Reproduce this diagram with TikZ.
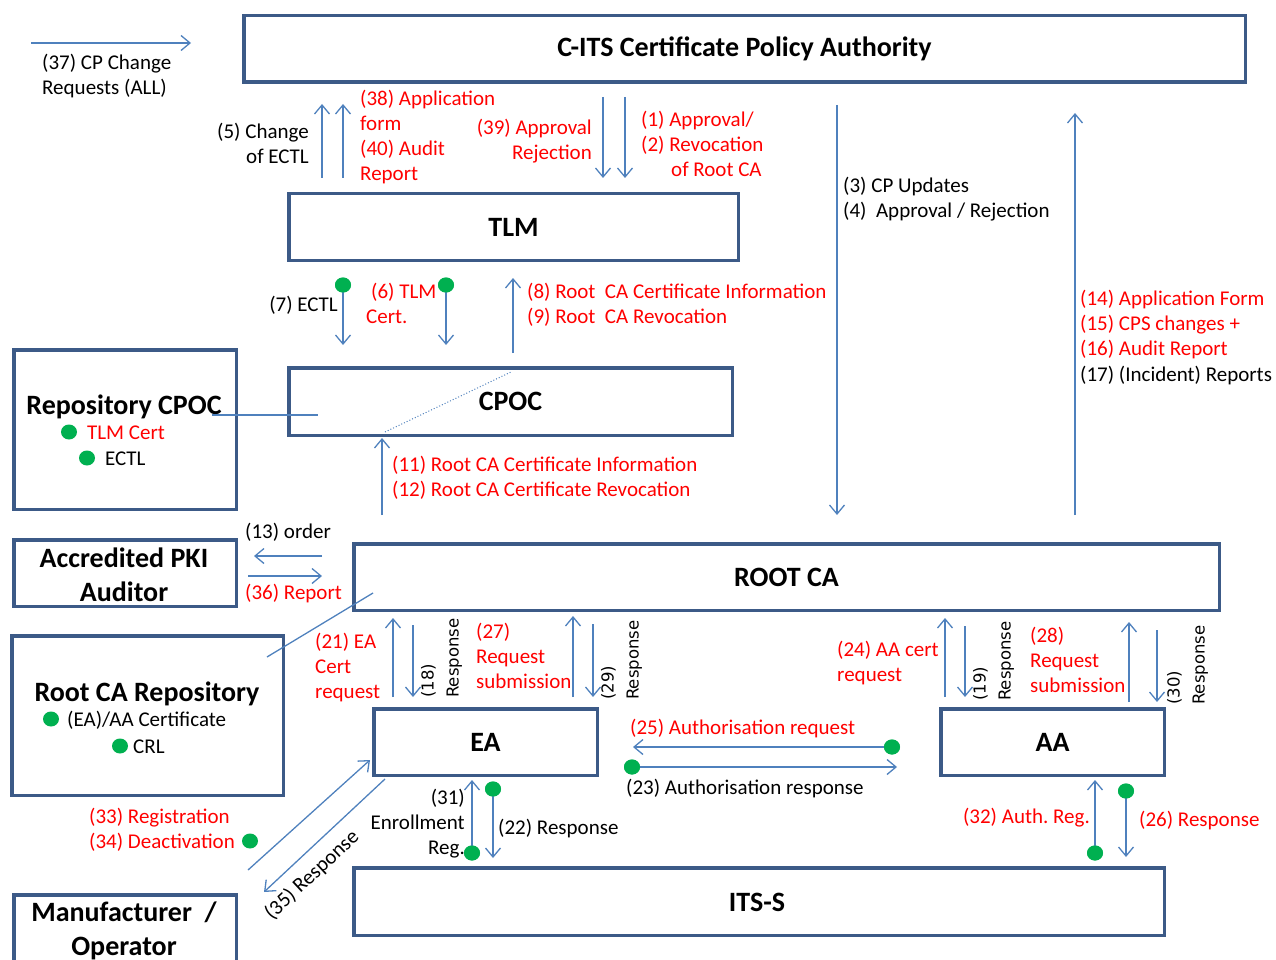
\documentclass[tikz,border=0pt]{standalone}
\usepackage{fontspec}
\setmainfont{Carlito}
\newfontfamily\respfont{DejaVu Sans}
\usetikzlibrary{arrows.meta,shapes.geometric}
\definecolor{boxblue}{RGB}{60,90,135}
\definecolor{arrblue}{RGB}{79,129,189}
\definecolor{dotgreen}{RGB}{0,176,80}
\definecolor{lblred}{RGB}{255,0,0}
\begin{document}
\begin{tikzpicture}[x=1pt,y=-1pt,
  box/.style={draw=boxblue,line width=3.5pt,fill=white,inner sep=0pt,font=\fontsize{28}{34}\selectfont\bfseries},
  ttl/.style={inner sep=0pt,align=center,font=\fontsize{28}{34}\selectfont\bfseries},
  arr/.style={draw=arrblue,line width=1.3pt,-{Straight Barb[length=9pt,width=15pt,line width=1.3pt]}},
  ln/.style={draw=arrblue,line width=1.3pt},
  gdot/.style={ellipse,fill=dotgreen,minimum width=16pt,minimum height=15pt,inner sep=0pt},
  lbl/.style={font=\fontsize{21}{25}\selectfont,inner sep=0pt,text=black},
  rlbl/.style={lbl,text=lblred},
  resp/.style={font=\respfont\fontsize{16.5}{25}\selectfont,rotate=90,anchor=north west,align=left,inner sep=0pt}
]
\useasboundingbox (0,0) rectangle (1276,960);
\clip (0,0) rectangle (1276,960);

% ---------------- boxes ----------------
\node[box,minimum width=1001.5pt,minimum height=66.5pt] (cpa) at (744.5,49) {C-ITS Certificate Policy Authority};
\node[box,minimum width=449.5pt,minimum height=66.5pt] (tlm) at (513.5,227) {TLM};
\node[box,minimum width=443.5pt,minimum height=67.5pt] (cpoc) at (510.5,401.5) {CPOC};
\node[box,minimum width=222.5pt,minimum height=159.5pt] (repcpoc) at (125,429.5) {};
\node[box,minimum width=222.5pt,minimum height=66.5pt] (auditor) at (125,573) {};
\node[box,minimum width=865.5pt,minimum height=66.5pt] (rootca) at (786.5,577) {ROOT CA};
\node[box,minimum width=271.5pt,minimum height=159.5pt] (reproot) at (147.5,715.5) {};
\node[box,minimum width=223.5pt,minimum height=66.5pt] (ea) at (485.5,742) {EA};
\node[box,minimum width=223.5pt,minimum height=66.5pt] (aa) at (1052.5,742) {AA};
\node[box,minimum width=810.5pt,minimum height=67.5pt] (its) at (759,901.5) {};
\node[box,minimum width=222.5pt,minimum height=80pt] (manu) at (125,935) {};

\node[ttl] (itsT) at (757,902) {ITS-S};
\node[ttl,anchor=base] (repcpocT) at (124,414) {Repository CPOC};
\node[ttl,anchor=base] (auditorT) at (124,601) {Accredited PKI\\Auditor};
\node[ttl,anchor=base] (reprootT) at (147,701) {Root CA Repository};
\node[ttl,anchor=base] (manuT) at (124,955) {Manufacturer\ \ /\\Operator};

% ---------------- green dots ----------------
\node[gdot] (dTLMc) at (69,432) {};
\node[gdot] (dECTL) at (87,458) {};
\node[rlbl,anchor=base west] (tTLMc) at (87,439) {TLM Cert};
\node[lbl,anchor=base west] (tECTL) at (105,465) {ECTL};
\node[gdot] (dEAAA) at (51,719) {};
\node[gdot] (dCRL) at (120,746) {};
\node[lbl,anchor=base west] (tEAAA) at (67,726) {(EA)/AA Certificate};
\node[lbl,anchor=base west] (tCRL) at (133,753) {CRL};

% ---------------- coordinates ----------------
\coordinate (a37s) at (31,43);   \coordinate (a37e) at (191,43);
\coordinate (a5s) at (322,178);  \coordinate (a5e) at (322,104);
\coordinate (a38s) at (343,178); \coordinate (a38e) at (343,104);
\coordinate (a39s) at (603,97);  \coordinate (a39e) at (603,178);
\coordinate (a1s) at (625,97);   \coordinate (a1e) at (625,178);
\coordinate (a3s) at (837,105);  \coordinate (a3e) at (837,515);
\coordinate (a14s) at (1075,515);\coordinate (a14e) at (1075,113);
\coordinate (a7e) at (343,345);  \coordinate (a6e) at (446,345);
\coordinate (a8s) at (513,353);  \coordinate (a8e) at (513,278);
\coordinate (a11s) at (382,515); \coordinate (a11e) at (382,438);
\coordinate (a13s) at (322,556); \coordinate (a13e) at (254,556);
\coordinate (a36s) at (248,576); \coordinate (a36e) at (322,576);
\coordinate (a21s) at (393,697); \coordinate (a21e) at (393,618);
\coordinate (a18s) at (413,625); \coordinate (a18e) at (413,697);
\coordinate (a27s) at (573,697); \coordinate (a27e) at (573,616);
\coordinate (a29s) at (593,624); \coordinate (a29e) at (593,697);
\coordinate (a24s) at (945,697); \coordinate (a24e) at (945,618);
\coordinate (a19s) at (965,626); \coordinate (a19e) at (965,697);
\coordinate (a28s) at (1129,702);\coordinate (a28e) at (1129,622);
\coordinate (a30s) at (1157,630);\coordinate (a30e) at (1157,702);
\coordinate (a25e) at (633,747); \coordinate (a23e) at (897,767);
\coordinate (a31e) at (472,780); \coordinate (a22e) at (493,858);
\coordinate (a32e) at (1095,780);\coordinate (a26e) at (1126,857);
\coordinate (a33s) at (248,870); \coordinate (a33e) at (370,760);
\coordinate (a35s) at (385,779); \coordinate (a35e) at (264,892);
\coordinate (lnA) at (212,415);  \coordinate (lnB) at (318,415);
\coordinate (dtA) at (385,432);  \coordinate (dtB) at (511,372);
\coordinate (lnC) at (373,593);  \coordinate (lnD) at (267,657);

% ---------------- dots on arrows ----------------
\node[gdot] (d7) at (343,285) {};
\node[gdot] (d6) at (446,285) {};
\node[gdot] (d25) at (892,747) {};
\node[gdot] (d23) at (632,767) {};
\node[gdot] (d34) at (250,841) {};
\node[gdot] (d31) at (472,853) {};
\node[gdot] (d22) at (493,789) {};
\node[gdot] (d32) at (1095,853) {};
\node[gdot] (d26) at (1126,791) {};

% ---------------- connectors ----------------
\draw[arr] (a37s) -- (a37e);
\draw[arr] (a5s) -- (a5e);
\draw[arr] (a38s) -- (a38e);
\draw[arr] (a39s) -- (a39e);
\draw[arr] (a1s) -- (a1e);
\draw[arr] (a3s) -- (a3e);
\draw[arr] (a14s) -- (a14e);
\draw[arr] (d7.center) -- (a7e);
\draw[arr] (d6.center) -- (a6e);
\draw[arr] (a8s) -- (a8e);
\draw[arr] (a11s) -- (a11e);
\draw[arr] (a13s) -- (a13e);
\draw[arr] (a36s) -- (a36e);
\draw[arr] (a21s) -- (a21e);
\draw[arr] (a18s) -- (a18e);
\draw[arr] (a27s) -- (a27e);
\draw[arr] (a29s) -- (a29e);
\draw[arr] (a24s) -- (a24e);
\draw[arr] (a19s) -- (a19e);
\draw[arr] (a28s) -- (a28e);
\draw[arr] (a30s) -- (a30e);
\draw[arr] (d25.center) -- (a25e);
\draw[arr] (d23.center) -- (a23e);
\draw[arr] (d31.center) -- (a31e);
\draw[arr] (d22.center) -- (a22e);
\draw[arr] (d32.center) -- (a32e);
\draw[arr] (d26.center) -- (a26e);
\draw[arr] (a33s) -- (a33e);
\draw[arr] (a35s) -- (a35e);
\draw[ln] (lnA) -- (lnB);
\draw[ln] (lnC) -- (lnD);
\draw[draw=arrblue,line width=1pt,dotted] (dtA) -- (dtB);
% redraw dots on top
\foreach \d in {d7,d6,d25,d23,d31,d22,d32,d26}{\fill[dotgreen] (\d) ellipse (8pt and 7.5pt);}

% ---------------- labels ----------------
\node[lbl,anchor=base west,align=left] (t37) at (42,95) {(37) CP Change\\Requests (ALL)};
\node[lbl,anchor=base east,align=right] (t5) at (309,164) {(5) Change\\of ECTL};
\node[rlbl,anchor=base west,align=left] (t38) at (360,181) {(38) Application\\form\\(40) Audit\\Report};
\node[rlbl,anchor=base east,align=right] (t39) at (592,160) {(39) Approval\\Rejection};
\node[rlbl,anchor=base west,align=left] (t1) at (641,177) {(1) Approval/\\(2) Revocation\\\hspace*{30pt}of Root CA};
\node[lbl,anchor=base west,align=left] (t3) at (843,218) {(3) CP Updates\\(4)\ \ Approval\ / Rejection};
\node[rlbl,anchor=base west,align=left] (t14) at (1080,355) {(14) Application Form\\(15) CPS changes +\\(16) Audit Report};
\node[lbl,anchor=base west] (t17) at (1080,381) {(17) (Incident) Reports};
\node[lbl,anchor=base east] (t7) at (338,311) {(7) ECTL};
\node[rlbl,anchor=base west,align=left] (t6) at (366,323) {\hspace*{5pt}(6) TLM\\Cert.};
\node[rlbl,anchor=base west,align=left] (t8) at (527,323) {(8) Root\ \ CA Certificate Information\\(9) Root\ \ CA Revocation};
\node[rlbl,anchor=base west,align=left] (t11) at (392,496) {(11) Root CA Certificate Information\\(12) Root CA Certificate Revocation};
\node[lbl,anchor=base west] (t13) at (245,538) {(13) order};
\node[rlbl,anchor=base west] (t36) at (245,599) {(36) Report};
\node[rlbl,anchor=base west,align=left] (t21) at (315,698) {(21) EA\\Cert\\request};
\node[rlbl,anchor=base west,align=left] (t27) at (476,688) {(27)\\Request\\submission};
\node[rlbl,anchor=base west,align=left] (t24) at (837,681) {(24) AA cert\\request};
\node[rlbl,anchor=base west,align=left] (t28) at (1030,692) {(28)\\Request\\submission};
\node[rlbl,anchor=base west] (t25) at (630,734) {(25) Authorisation request};
\node[lbl,anchor=base west] (t23) at (626,794) {(23) Authorisation response};
\node[lbl,anchor=base east,align=right] (t31) at (465,854) {(31)\\Enrollment\\Reg.};
\node[lbl,anchor=base west] (t22) at (498,834) {(22) Response};
\node[rlbl,anchor=base east] (t32) at (1090,823) {(32) Auth.\ Reg.};
\node[rlbl,anchor=base west] (t26) at (1139,826) {(26) Response};
\node[rlbl,anchor=base west,align=left] (t33) at (89,848) {(33) Registration\\(34) Deactivation};
\node[lbl,rotate=43] (t35) at (312,875) {(35) Response};
\node[resp] (r18) at (421,698) {(18)\\Response};
\node[resp] (r29) at (601,700) {(29)\\Response};
\node[resp] (r19) at (973,701) {(19)\\Response};
\node[resp] (r30) at (1167,705) {(30)\\Response};
\end{tikzpicture}
\end{document}
